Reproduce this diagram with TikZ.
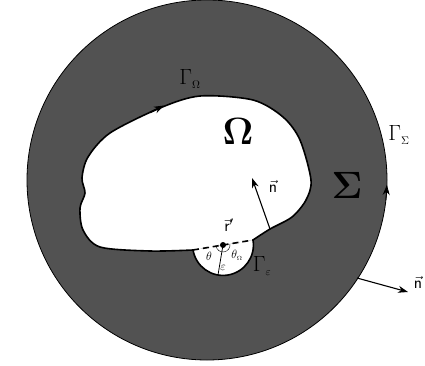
\RequirePackage{fix-cm}
\documentclass[tikz,border=0pt]{standalone}
\usepackage{amsmath}
\usetikzlibrary{arrows.meta}
\tikzset{
    bdry/.style={line width=1.6pt},
    nvec/.style={-{Stealth[length=10pt,width=7pt]}, line width=1.1pt},
    biglbl/.style={inner sep=0pt, font=\fontsize{38}{44}\selectfont},
    gamlbl/.style={inner sep=0pt, font=\fontsize{22}{26}\selectfont},
    smalllbl/.style={inner sep=0pt, font=\fontsize{12}{14}\selectfont},
    nlbl/.style={inner sep=0pt, font=\fontsize{17}{19}\selectfont},
}
\begin{document}
\begin{tikzpicture}[x=1pt, y=-1pt]
    \useasboundingbox (0,0) rectangle (425,366);
    % outer region Sigma
    \fill[black!68, draw=black, thick] (207,180) circle (180);

    % white hole Omega, plus the small half disc
    \fill[white] plot[smooth] coordinates {(193,250) (150,251) (100,247) (83,230) (80,208) (85,193) (82,178) (88,157) (110,133) (160,108) (200,96) (253,100) (283,117) (300,140) (311,180) (306,200) (292,217) (270,229) (253,240)} -- cycle;
    \fill[white] (253,240) arc[start angle=-9.5, end angle=170.5, radius=30.4] -- cycle;

    % boundary of Omega
    \draw[bdry] plot[smooth] coordinates {(193,250) (150,251) (100,247) (83,230) (80,208) (85,193) (82,178) (88,157) (110,133) (160,108) (200,96) (253,100) (283,117) (300,140) (311,180) (306,200) (292,217) (270,229) (253,240)};
    \draw[bdry] (253,240) arc[start angle=-9.5, end angle=170.5, radius=30.4];
    \draw[bdry, dash pattern=on 6pt off 4pt] (193,250) -- (253,240);
    \draw[bdry, -{Stealth[length=10pt,width=7pt]}] (150,112.5) -- (164,105.5);
    \draw[thick, -{Stealth[length=10pt,width=7pt]}] (385.9,200) -- (386.9,185);

    % the point r' and the small circle
    \coordinate (rp) at (223,245);
    \coordinate (epsend) at (218,275);
    \fill (rp) circle (3);
    \draw[thick] (rp) -- (epsend);
    \draw[thin] (rp) ++(170.5:7) arc[start angle=170.5, end angle=-9.5, radius=7];

    % normals
    \coordinate (nin0) at (270,229);
    \coordinate (nin1) at (252,178);
    \coordinate (nout0) at (357,278);
    \coordinate (nout1) at (408,292);
    \draw[nvec] (nin0) -- (nin1);
    \draw[nvec] (nout0) -- (nout1);

    % labels
    \node[biglbl] (om) at (238,131) {$\mathbf{\Omega}$};
    \node[biglbl] (sig) at (347,185) {$\mathbf{\Sigma}$};
    \node[gamlbl] (gom) at (190,79) {$\Gamma_{\scriptscriptstyle\Omega}$};
    \node[gamlbl] (gsig) at (399,135) {$\Gamma_{\scriptscriptstyle\Sigma}$};
    \node[gamlbl] (geps) at (262,266) {$\Gamma_{\scriptscriptstyle\varepsilon}$};
    \node[nlbl] (rlbl) at (229,225) {$\vec{\mathsf{r}}'$};
    \node[nlbl] (nin) at (273,186) {$\vec{\mathsf{n}}$};
    \node[nlbl] (nout) at (418,282) {$\vec{\mathsf{n}}$};
    \node[smalllbl] (th) at (209,256) {$\theta$};
    \node[smalllbl] (thom) at (237,255) {$\theta_{\scriptscriptstyle\Omega}$};
    \node[smalllbl] (eps) at (223,268) {$\varepsilon$};
\end{tikzpicture}
\end{document}
